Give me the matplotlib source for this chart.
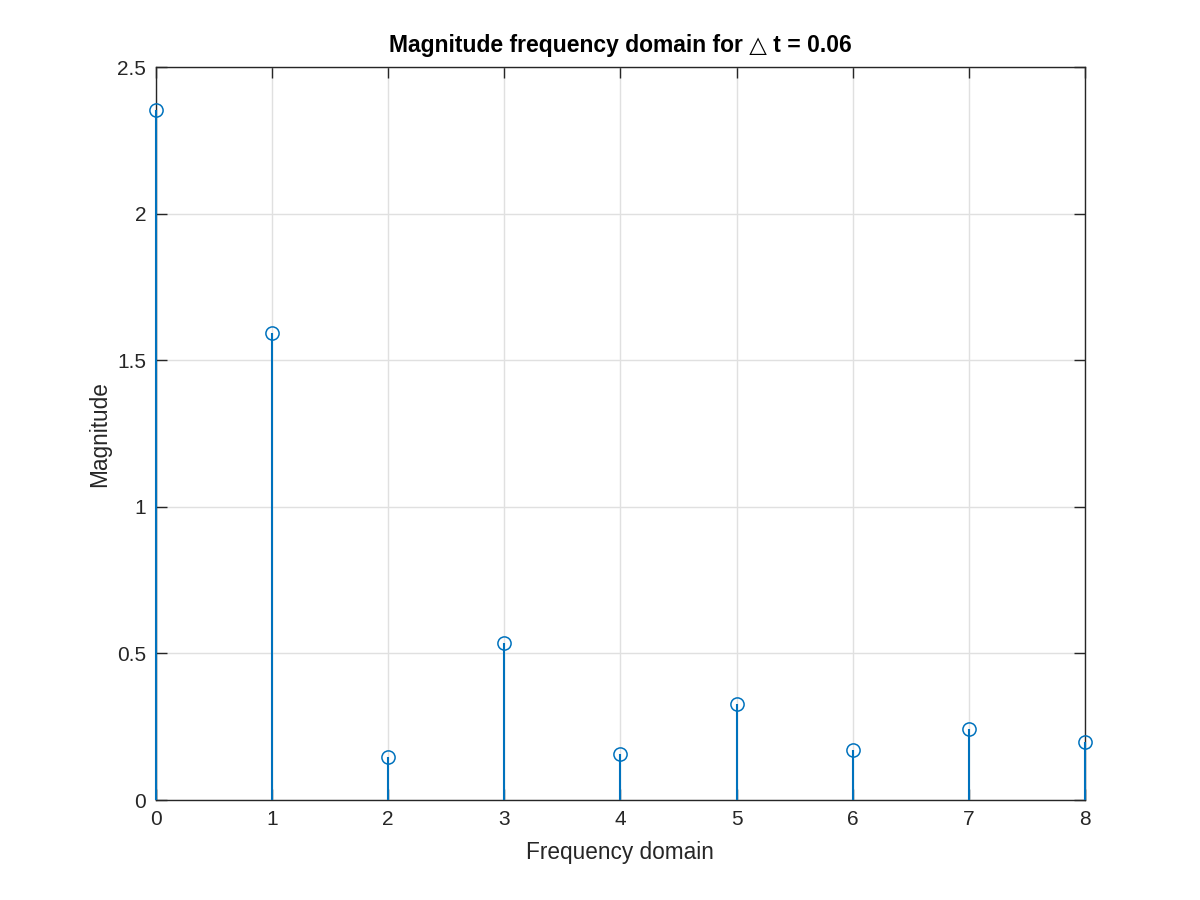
import matplotlib
matplotlib.use("Agg")
import matplotlib.pyplot as plt

# Stem values
freq = [0, 1, 2, 3, 4, 5, 6, 7, 8]
magnitude = [2.353, 1.593, 0.147, 0.535, 0.157, 0.327, 0.171, 0.242, 0.198]
xticks = [0, 1, 2, 3, 4, 5, 6, 7, 8]
yticks = [0, 0.5, 1, 1.5, 2, 2.5]
yticklabels = ['0', '0.5', '1', '1.5', '2', '2.5']

plt.rcParams['font.family'] = ['Liberation Sans', 'DejaVu Sans']
blue = '#0072BD'
axcolor = '#262626'

fig = plt.figure(figsize=(12, 9), dpi=100)
ax = fig.add_axes([0.13, 0.111, 0.774, 0.8145])

markerline, stemlines, baseline = ax.stem(freq, magnitude, basefmt=' ')
plt.setp(stemlines, color=blue, linewidth=1.5, zorder=6, clip_on=False)
plt.setp(markerline, color=blue, marker='o', markersize=9.5,
         markerfacecolor='none', markeredgewidth=1.1, zorder=7, clip_on=False)

ax.set_xlim(0, 8)
ax.set_ylim(0, 2.5)
ax.set_xticks(xticks)
ax.set_yticks(yticks)
ax.set_yticklabels(yticklabels)
ax.grid(True, color='#e0e0e0', linewidth=1.0)
ax.set_axisbelow(True)

ax.tick_params(direction='in', top=True, right=True, length=8, width=1.0,
               colors=axcolor, labelsize=15, pad=7)
for s in ax.spines.values():
    s.set_color(axcolor)
    s.set_linewidth(1.0)
    s.set_zorder(5)

ax.set_xlabel('Frequency domain', fontsize=16.3, color=axcolor, labelpad=9)
ax.set_ylabel('Magnitude', fontsize=16.3, color=axcolor, labelpad=4)
ax.set_title('Magnitude frequency domain for \u25b3 t = 0.06',
             fontsize=16.5, fontweight='bold', color='black', pad=11)

fig.savefig('out.png', dpi=100)
